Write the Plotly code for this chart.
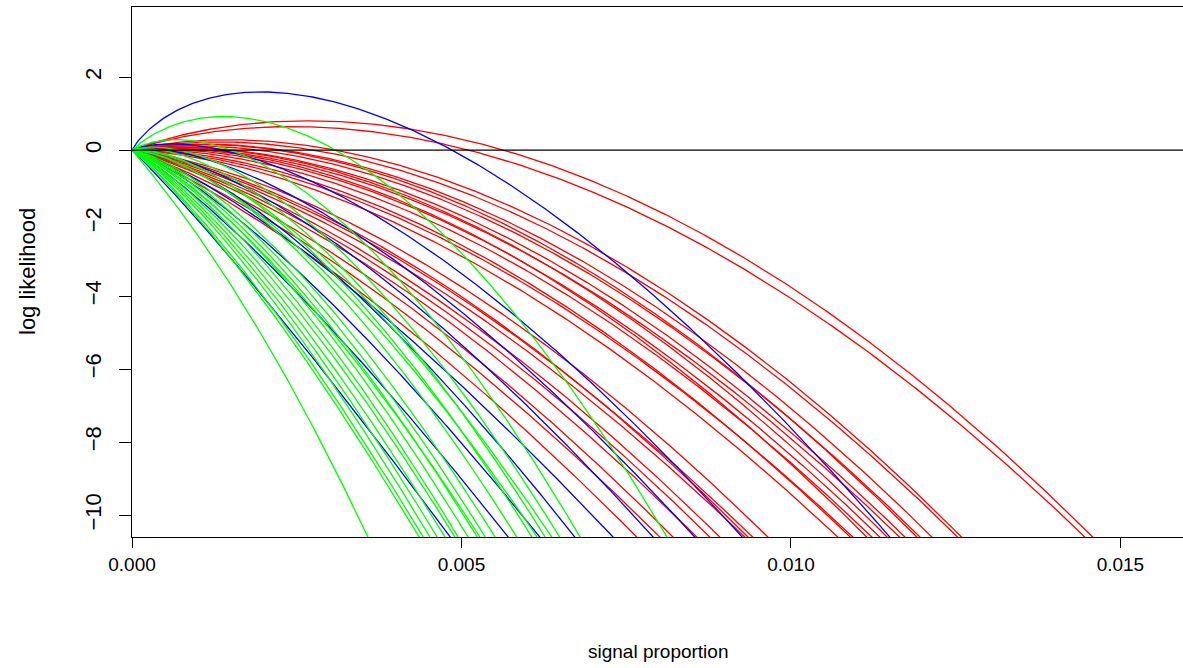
import numpy as np
import plotly.graph_objects as go

# Each curve: log likelihood vs signal proportion.
# end = signal proportion (x1000) where curve reaches the bottom of the plot (-10.6)
# slope = initial slope (log-lik per 0.001), k = curvature exponent
Y_BOTTOM = -10.6

red_end = [14.58, 14.46, 12.59, 12.53, 12.14, 11.96, 11.91, 11.73, 11.65, 11.46,
           11.35, 11.23, 11.15, 10.94, 10.90, 10.71, 9.65, 9.42, 9.35, 9.30,
           8.92, 8.77, 8.57, 8.21, 8.01, 7.66]
red_slope = [0.70, 0.62, 0.45, 0.40, 0.35, 0.30, 0.35, 0.25, 0.20, 0.25,
             0.15, 0.10, 0.20, 0.00, 0.05, -0.05, -0.20, -0.30, -0.25, -0.35,
             -0.40, -0.45, -0.50, -0.60, -0.70, -0.80]
red_k = [1.75] * len(red_end)

blue_end = [4.83, 5.71, 6.19, 6.72, 7.30, 7.91, 8.54, 9.26, 11.50]
blue_slope = [-1.6, -0.8, -0.4, 0.2, -0.3, 0.3, 0.6, 1.0, 4.9]
blue_k = [1.4, 1.4, 1.4, 1.4, 1.4, 1.4, 1.4, 1.4, 1.2]

green_end = [3.58, 4.36, 4.42, 4.52, 4.63, 4.75, 4.90, 4.95, 5.10, 5.24, 5.28,
             5.36, 5.51, 5.84, 6.07, 6.15, 6.27, 6.37, 6.49, 6.80, 8.12]
green_slope = [-2.1, -1.4, -1.3, -1.1, -1.0, -0.9, -0.8, -0.6, -0.5, -0.4, -0.6,
               -0.3, -0.2, 0.1, 0.3, 0.0, 0.5, 0.2, 0.7, 1.2, 1.86]
green_k = [2.0] + [1.55] * 20

x_ticks = [0.0, 0.005, 0.010, 0.015]
x_ticktext = ["0.000", "0.005", "0.010", "0.015"]
y_ticks = [-10, -8, -6, -4, -2, 0, 2]
y_ticktext = ["\u221210", "\u22128", "\u22126", "\u22124", "\u22122", "0", "2"]

FONT = "Liberation Sans, Arial, Helvetica, sans-serif"

fig = go.Figure()


def add_group(ends, slopes, ks, color):
    for te, s, k in zip(ends, slopes, ks):
        b = (s * te + (-Y_BOTTOM)) / te ** k
        t = np.linspace(0, te * 1.01, 400)
        y = s * t - b * t ** k
        fig.add_trace(go.Scatter(x=t / 1000.0, y=y, mode="lines",
                                 line=dict(color=color, width=1.3),
                                 hoverinfo="skip", showlegend=False))


add_group(red_end, red_slope, red_k, "#FF0000")
add_group(blue_end, blue_slope, blue_k, "#0000FF")
add_group(green_end, green_slope, green_k, "#00FF00")

fig.add_hline(y=0, line=dict(color="black", width=1.3))

fig.update_layout(
    width=1183, height=668,
    margin=dict(l=132, r=0, t=7, b=131, autoexpand=False),
    paper_bgcolor="white", plot_bgcolor="white",
    font=dict(family=FONT, size=19, color="black"),
    showlegend=False,
    annotations=[
        dict(text="signal proportion", xref="paper", yref="paper",
             x=0.5, y=(537 - 651) / 530.0, xanchor="center", yanchor="middle",
             showarrow=False, font=dict(size=19)),
        dict(text="log likelihood", xref="paper", yref="paper",
             x=(27 - 132) / 1051.0, y=(537 - 272) / 530.0, textangle=-90,
             xanchor="center", yanchor="middle",
             showarrow=False, font=dict(size=22)),
    ],
)
fig.update_xaxes(range=[0, 0.01595], tickvals=x_ticks, ticktext=x_ticktext,
                 tickfont=dict(size=19),
                 ticks="outside", ticklen=10, tickwidth=1.2, tickcolor="black",
                 showline=True, linecolor="black", linewidth=1.3, mirror=True,
                 showgrid=False, zeroline=False, automargin=False)
fig.update_yaxes(range=[-10.6, 3.92], tickvals=y_ticks, ticktext=y_ticktext,
                 tickangle=-90, ticklabelstandoff=9, tickfont=dict(size=22),
                 ticks="outside", ticklen=12, tickwidth=1.2, tickcolor="black",
                 showline=True, linecolor="black", linewidth=1.3, mirror=False,
                 showgrid=False, zeroline=False, automargin=False)

fig.write_html("out.html", config={"displayModeBar": False},
               post_script="document.body.style.margin='0px';")
